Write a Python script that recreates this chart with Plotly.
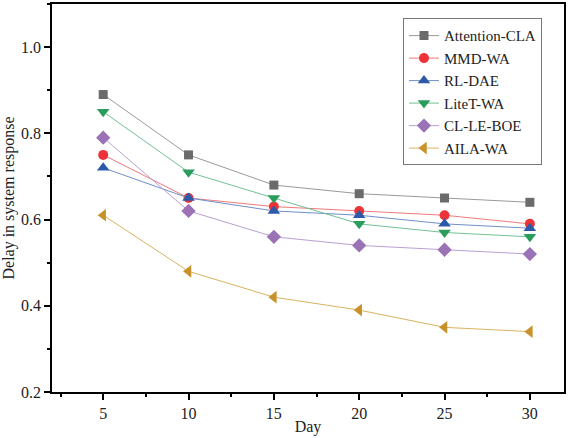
import plotly.graph_objects as go

days = [5, 10, 15, 20, 25, 30]
names = ["Attention-CLA", "MMD-WA", "RL-DAE", "LiteT-WA", "CL-LE-BOE", "AILA-WA"]
attention_cla = [0.89, 0.75, 0.68, 0.66, 0.65, 0.64]
mmd_wa = [0.75, 0.65, 0.63, 0.62, 0.61, 0.59]
rl_dae = [0.72, 0.65, 0.62, 0.61, 0.59, 0.58]
litet_wa = [0.85, 0.71, 0.65, 0.59, 0.57, 0.56]
cl_le_boe = [0.79, 0.62, 0.56, 0.54, 0.53, 0.52]
aila_wa = [0.61, 0.48, 0.42, 0.39, 0.35, 0.34]
series = [attention_cla, mmd_wa, rl_dae, litet_wa, cl_le_boe, aila_wa]

marker_colors = ["#6b6b6b", "#ee3338", "#2d5aa8", "#2a9d5c", "#9b72b5", "#c8922a"]
line_colors = ["#9a9a9a", "#f07a7a", "#6f8fc9", "#72c194", "#b9a0d2", "#d9b25e"]
symbols = ["square", "circle", "triangle-up", "triangle-down", "diamond", "triangle-left"]
sizes = [9, 10, 11, 11, 11, 11]

fig = go.Figure()
for n, ys, mc, lc, sym, sz in zip(names, series, marker_colors, line_colors, symbols, sizes):
    fig.add_trace(go.Scatter(
        x=days, y=ys, name=n, mode="lines+markers",
        line=dict(color=lc, width=1),
        marker=dict(symbol=sym, color=mc, size=sz, line=dict(width=0)),
        hoverinfo="skip",
    ))

font = "Liberation Serif, Times New Roman, serif"
axis_common = dict(
    showline=True, linecolor="black", linewidth=1.5, mirror=True,
    ticks="outside", ticklen=6, tickwidth=1.5, tickcolor="black",
    showgrid=False, zeroline=False,
    tickfont=dict(family=font, size=16, color="#222"),
)
fig.update_xaxes(
    range=[2, 32], tickvals=days, title=dict(text="Day", font=dict(family=font, size=16, color="#222"), standoff=0),
    minor=dict(dtick=2.5, tick0=2.5, ticks="outside", ticklen=3, tickwidth=1.5, tickcolor="black"),
    **axis_common,
)
fig.update_yaxes(
    range=[0.2, 1.1], tickvals=[0.2, 0.4, 0.6, 0.8, 1.0], ticktext=["0.2", "0.4", "0.6", "0.8", "1.0"],
    title=dict(text="Delay in system response", font=dict(family=font, size=16, color="#222"), standoff=4),
    minor=dict(dtick=0.1, tick0=0.1, ticks="outside", ticklen=3, tickwidth=1.5, tickcolor="black"),
    **axis_common,
)
fig.update_layout(
    width=568, height=438,
    margin=dict(l=52, r=2, t=3, b=46),
    plot_bgcolor="white", paper_bgcolor="white",
    showlegend=True,
    legend=dict(
        x=0.957, y=0.963, xanchor="right", yanchor="top",
        bordercolor="#777", borderwidth=1, bgcolor="white",
        font=dict(family=font, size=15, color="#222"),
        tracegroupgap=0, itemwidth=30,
    ),
)
fig.write_html("out.html")
